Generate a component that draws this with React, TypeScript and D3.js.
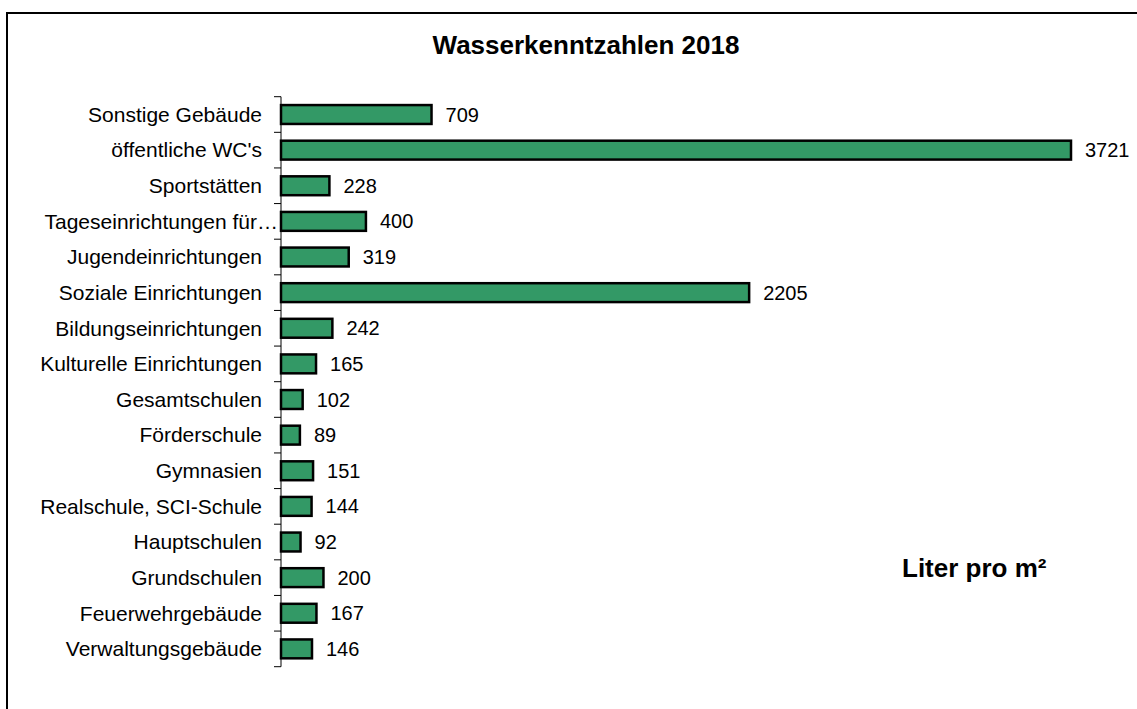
import React from 'react'
import * as d3 from 'd3'

const categories = [
  'Sonstige Gebäude',
  "öffentliche WC's",
  'Sportstätten',
  'Tageseinrichtungen für…',
  'Jugendeinrichtungen',
  'Soziale Einrichtungen',
  'Bildungseinrichtungen',
  'Kulturelle Einrichtungen',
  'Gesamtschulen',
  'Förderschule',
  'Gymnasien',
  'Realschule, SCI-Schule',
  'Hauptschulen',
  'Grundschulen',
  'Feuerwehrgebäude',
  'Verwaltungsgebäude',
]
const values = [709, 3721, 228, 400, 319, 2205, 242, 165, 102, 89, 151, 144, 92, 200, 167, 146]

const title = 'Wasserkenntzahlen 2018'
const unitLabel = 'Liter pro m²'

const W = 1137
const H = 709
const FONT = 'Liberation Sans, Arial, sans-serif'

const App = () => {
  const x0 = 281
  const scaleX = d3.scaleLinear().domain([0, 3721]).range([x0, 1071])
  const scaleY = d3.scaleBand().domain(categories).range([96.7, 666.7]).paddingInner(0.47).paddingOuter(0.235)
  const ticks = d3.range(categories.length + 1).map(i => 96.7 + i * scaleY.step())

  return (
    <svg width={W} height={H} style={{ position: 'absolute', left: 0, top: 0, background: '#fff' }}>
      <rect x={7} y={13} width={1200} height={800} fill="#fff" stroke="#000" strokeWidth={2} />
      <text x={586} y={54} textAnchor="middle" fontFamily={FONT} fontWeight="bold" fontSize={26}>{title}</text>
      <g>
        <line x1={x0} x2={x0} y1={96.7} y2={666.7} stroke="#000" strokeWidth={1} />
        {ticks.map((t, i) => (
          <line key={i} x1={x0 - 7} x2={x0} y1={t} y2={t} stroke="#000" strokeWidth={1} />
        ))}
      </g>
      {categories.map((c, i) => {
        const y = scaleY(c)!
        const bh = scaleY.bandwidth()
        // truncated label runs on up to the axis, like the original
        const lx = c.endsWith('…') ? x0 - 3 : 262
        return (
          <g key={c}>
            <text x={lx} y={y + bh / 2} dy="0.35em" textAnchor="end" fontFamily={FONT} fontSize={21}>{c}</text>
            <rect x={scaleX(0)} y={y} width={scaleX(values[i]) - scaleX(0)} height={bh} fill="#339966" stroke="#000" strokeWidth={2.5} />
            <text x={scaleX(values[i]) + 14} y={y + bh / 2} dy="0.35em" fontFamily={FONT} fontSize={20}>{values[i]}</text>
          </g>
        )
      })}
      <text x={902} y={577} fontFamily={FONT} fontWeight="bold" fontSize={26}>{unitLabel}</text>
    </svg>
  )
}

export default App
